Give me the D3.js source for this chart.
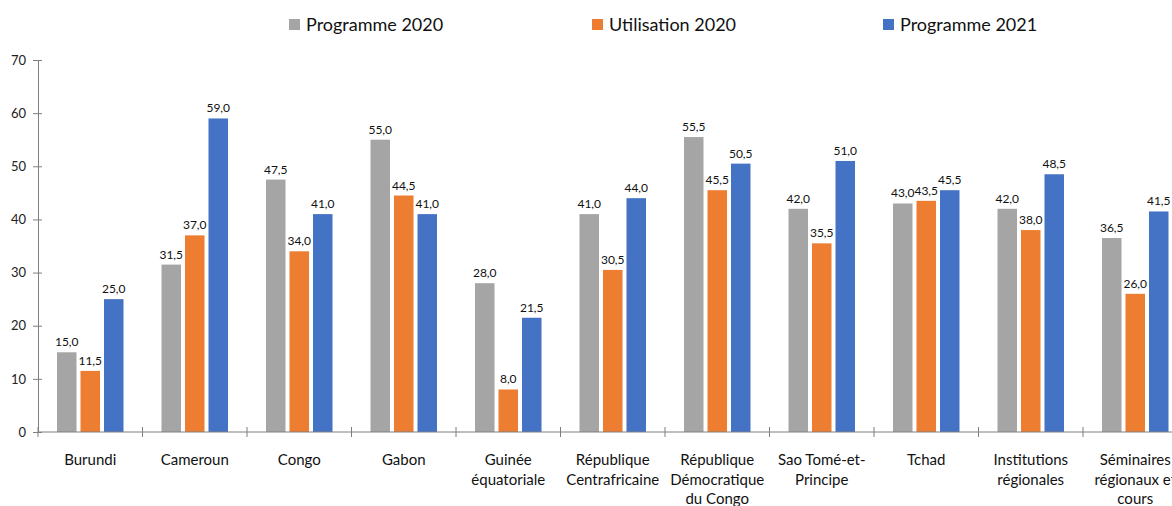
<!DOCTYPE html>
<html><head><meta charset="utf-8">
<script src="https://cdn.jsdelivr.net/npm/d3@7"></script>
<style>body{margin:0;background:#fff;overflow:hidden}svg{display:block}text{font-family:Lato,"Liberation Sans",sans-serif}</style>
</head><body>
<script>
const categories = [["Burundi"],["Cameroun"],["Congo"],["Gabon"],["Guinée","équatoriale"],["République","Centrafricaine"],["République","Démocratique","du Congo"],["Sao Tomé-et-","Principe"],["Tchad"],["Institutions","régionales"],["Séminaires","régionaux et","cours"]];
const seriesNames = ["Programme 2020","Utilisation 2020","Programme 2021"];
const programme2020 = [15,31.5,47.5,55,28,41,55.5,42,43,42,36.5];
const utilisation2020 = [11.5,37,34,44.5,8,30.5,45.5,35.5,43.5,38,26];
const programme2021 = [25,59,41,41,21.5,44,50.5,51,45.5,48.5,41.5];
const yTicks = [0,10,20,30,40,50,60,70];
const colors = ["#A5A5A5","#ED7D31","#4472C4"];

const W=1172,H=506;
const svg=d3.select("body").append("svg").attr("width",W).attr("height",H);
const x0=38, band=104.5;
const ids=d3.range(categories.length);
const x=d3.scaleBand().domain(ids).range([x0,x0+band*categories.length]).paddingInner(0).paddingOuter(0);
const xi=d3.scaleBand().domain([0,1,2]).range([19,band-19]).paddingInner(0.17);
const y=d3.scaleLinear().domain([0,70]).range([432,60]);
const axisColor="#7f7f7f";

// y axis
const ya=svg.append("g").attr("transform",`translate(${x0},0)`)
 .call(d3.axisLeft(y).tickValues(yTicks).tickSize(5).tickPadding(7).tickFormat(d3.format("d")));
ya.select(".domain").attr("stroke",axisColor);
ya.selectAll(".tick line").attr("stroke",axisColor).attr("x2",4).attr("x1",-5);
ya.selectAll("text").attr("font-size",13).attr("fill","#222").attr("font-family","Lato,sans-serif");

// bars
const data=[programme2020,utilisation2020,programme2021];
const g=svg.append("g");
data.forEach((vals,s)=>{
  g.selectAll(".b"+s).data(vals).enter().append("rect")
   .attr("x",(d,i)=>x(i)+xi(s)).attr("width",xi.bandwidth())
   .attr("y",d=>y(d)).attr("height",d=>y(0)-y(d)).attr("fill",colors[s]);
  g.selectAll(".l"+s).data(vals).enter().append("text")
   .attr("x",(d,i)=>x(i)+xi(s)+xi.bandwidth()/2).attr("y",d=>y(d)-6)
   .attr("text-anchor","middle").attr("font-size",12).attr("fill","#111")
   .text(d=>d3.format(".1f")(d).replace(".",","));
});

// x axis
const xa=svg.append("g").attr("transform",`translate(0,${y(0)})`);
xa.append("line").attr("x1",x0).attr("x2",W).attr("stroke",axisColor);
const tickPos=d3.range(categories.length+1).map(i=>x0+i*band);
xa.selectAll(".t").data(tickPos).enter().append("line")
 .attr("x1",d=>d).attr("x2",d=>d).attr("y1",-5).attr("y2",5).attr("stroke",axisColor);
categories.forEach((lines,i)=>{
  const t=xa.append("text").attr("text-anchor","middle").attr("font-size",15).attr("fill","#111");
  lines.forEach((ln,k)=>t.append("tspan").attr("x",x(i)+band/2).attr("y",33+k*19.5).text(ln));
});

// legend
const legX=[289,592,883];
seriesNames.forEach((n,s)=>{
  svg.append("rect").attr("x",legX[s]).attr("y",19).attr("width",11).attr("height",11).attr("fill",colors[s]);
  svg.append("text").attr("x",legX[s]+17).attr("y",31).attr("font-size",18).attr("fill","#111").text(n);
});
</script>
</body></html>
